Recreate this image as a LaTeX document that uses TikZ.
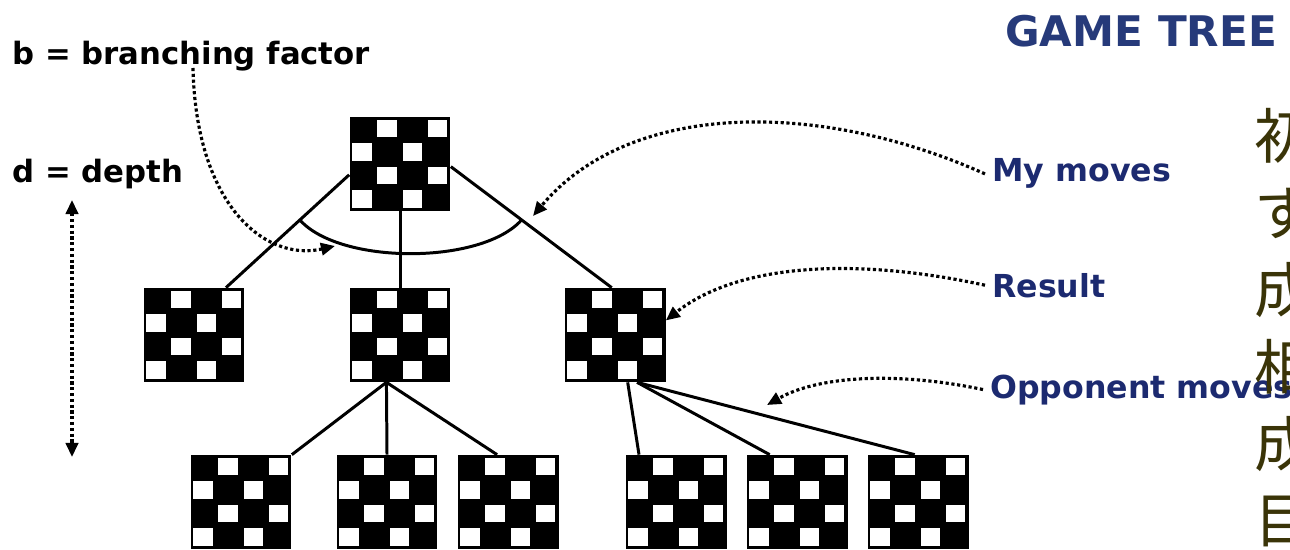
\documentclass[tikz,border=0pt]{standalone}
\usepackage{fontspec}
\usepackage{tikz}
\usepackage{xcolor}
\usetikzlibrary{arrows.meta}
\setmainfont{DejaVu Sans}
\newfontfamily\cjk{Noto Sans CJK JP}
\definecolor{labelblue}{RGB}{28,42,112}
\definecolor{titleblue}{RGB}{38,58,122}
\definecolor{olivetext}{RGB}{58,52,8}

\begin{document}
\begin{tikzpicture}[x=0.02cm,y=-0.02cm,
  board/.style={fill=black,inner sep=0pt,minimum width=2.02cm,minimum height=1.88cm},
  edge/.style={line width=1.7pt},
  hint/.style={line width=1.8pt,dash pattern=on 1.8pt off 1.5pt,-{Triangle[length=8pt,width=7pt]}},
  lbl/.style={font=\bfseries\fontsize{17.5}{20}\selectfont,anchor=base west,inner sep=0pt},
  tag/.style={lbl,font=\bfseries\fontsize{18}{21}\selectfont,text=labelblue},
  jp/.style={font=\cjk\fontsize{34}{34}\selectfont,text=olivetext,anchor=west,inner sep=0pt}]
\useasboundingbox[fill=white] (0,0) rectangle (1290,550);
\node[board] (r) at (400,164) {};
\node[board] (a) at (194,335) {};
\node[board] (b) at (400,335) {};
\node[board] (c) at (615,335) {};
\node[board] (d1) at (241,502) {};
\node[board] (d2) at (387,502) {};
\node[board] (d3) at (508,502) {};
\node[board] (e1) at (676,502) {};
\node[board] (e2) at (797,502) {};
\node[board] (e3) at (918,502) {};
\foreach \n in {r,a,b,c,d1,d2,d3,e1,e2,e3}
  \foreach \c/\r in {1/0,3/0,0/1,2/1,1/2,3/2,0/3,2/3}
    \fill[white] ([xshift={(\c*25.25+3)*0.02cm},yshift={-(\r*23.5+3)*0.02cm}]\n.north west) rectangle ++(19.5,17.5);
\draw[edge] (r.192) -- (a.56) coordinate[pos=0.4] (bl);
\draw[edge] (r.south) -- (b.north);
\draw[edge] (r.-3) -- (c.94) coordinate[pos=0.44] (br);
\draw[edge] (bl) .. controls +(40,45) and +(-40,45) .. (br);
\draw[edge] (b.-106) -- (d1.north east);
\draw[edge] (b.-106) -- (d2.north);
\draw[edge] (b.-106) -- (d3.103);
\draw[edge] (c.-75) -- (e1.128);
\draw[edge] (c.-65) -- (e2.120);
\draw[edge] (c.-65) -- (e3.94);
\node[lbl] (bf) at (12,65) {b = branching factor};
\node[lbl] (dp) at (12,183) {d = depth};
\node[lbl,text=titleblue,font=\bfseries\fontsize{24}{28}\selectfont] (gt) at (1005,47) {GAME TREE};
\node[tag] (mm) at (992,182) {My moves};
\node[tag] (rs) at (992,297) {Result};
\node[tag] (om) at (990,398) {Opponent moves};
\coordinate (bfs) at (193,68);
\coordinate (mmt) at (533,216);
\coordinate (omt) at (767,405);
\coordinate (dtop) at (72,200);
\coordinate (dbot) at (72,457);
\draw[hint] (bfs) .. controls (196,205) and (265,262) .. (335,246);
\draw[hint] ([xshift=-4pt]mm.west) .. controls (820,100) and (630,100) .. (mmt);
\draw[hint] ([xshift=-4pt]rs.west) .. controls (860,258) and (740,262) .. (c.16);
\draw[hint] ([xshift=-4pt]om.west) .. controls (900,372) and (820,375) .. (omt);
\draw[hint,{Triangle[length=8pt,width=7pt]}-{Triangle[length=8pt,width=7pt]}] (dtop) -- (dbot);
\foreach \ch/\y [count=\i] in {初/136,す/213,成/290,相/367,成/444,目/521}
  \node[jp] (j\i) at (1254,\y) {\ch};
\end{tikzpicture}
\end{document}
